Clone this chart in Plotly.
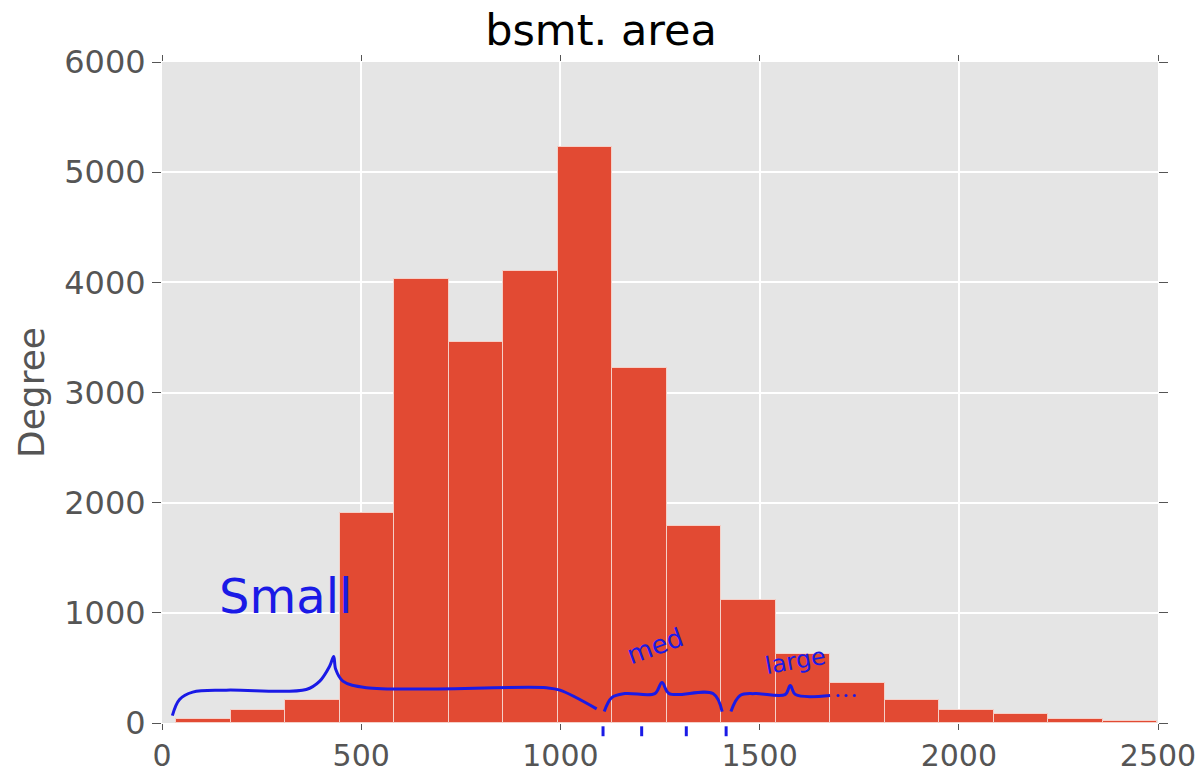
import plotly.graph_objects as go

# Histogram data (bsmt. area)
bin_start = 36
bin_width = 136.8
counts = [40, 115, 213, 1910, 4030, 3455, 4100, 5225, 3220, 1790,
          1112, 628, 365, 205, 114, 78, 33, 18]
x_ticks = [0, 500, 1000, 1500, 2000, 2500]
y_ticks = [0, 1000, 2000, 3000, 4000, 5000, 6000]

# Hand-drawn annotation strokes (data units)
small_brace_x = [26, 44, 77, 161, 362, 396, 421, 431, 436, 454, 513, 965, 999, 1091]
small_brace_y = [67, 213, 280, 298, 304, 380, 517, 603, 487, 380, 320, 320, 298, 128]
med_brace_x = [1110, 1129, 1162, 1237, 1255, 1273, 1383, 1406]
med_brace_y = [104, 231, 267, 267, 368, 267, 267, 104]
large_brace_x = [1428, 1451, 1489, 1564, 1577, 1590, 1677]
large_brace_y = [104, 250, 267, 258, 340, 258, 250]
dots_x = [1697, 1717, 1738]
dots_y = [250, 250, 250]
mark_x = [1107, 1204, 1316, 1416]
labels = ["Small", "med", "large"]
label_x = [310, 1238, 1590]
label_y = [1150, 700, 560]
label_size = [48, 26, 24]
label_angle = [0, -20, -10]

centers = [bin_start + bin_width * (i + 0.5) for i in range(len(counts))]

pen = "#1a1aE6"

fig = go.Figure()
fig.add_trace(go.Bar(x=centers, y=counts, width=bin_width,
                     marker=dict(color="#E24A33", line=dict(color="#F5D0C8", width=1)),
                     showlegend=False))
for bx, by in [(small_brace_x, small_brace_y), (med_brace_x, med_brace_y),
               (large_brace_x, large_brace_y)]:
    fig.add_trace(go.Scatter(x=bx, y=by, mode="lines", line=dict(color=pen, width=3, shape="spline"),
                             showlegend=False, hoverinfo="skip"))
fig.add_trace(go.Scatter(x=dots_x, y=dots_y, mode="markers",
                         marker=dict(color=pen, size=3), showlegend=False))

for mx in mark_x:
    fig.add_shape(type="line", xref="x", yref="paper", x0=mx, x1=mx, y0=-0.005, y1=-0.02,
                  line=dict(color=pen, width=3))

for t, lx, ly, s, a in zip(labels, label_x, label_y, label_size, label_angle):
    fig.add_annotation(x=lx, y=ly, xref="x", yref="y", text=t, showarrow=False,
                       textangle=a, font=dict(family="DejaVu Sans", size=s, color=pen))

axis_common = dict(showgrid=True, gridcolor="white", gridwidth=1.5, zeroline=False,
                   ticks="outside", tickcolor="#555555", tickwidth=1,
                   mirror="ticks", showline=False, automargin=False)

fig.update_xaxes(range=[0, 2500], tickvals=x_ticks, ticklen=6,
                 tickfont=dict(family="DejaVu Sans", size=30, color="#555555"), **axis_common)
fig.update_yaxes(range=[0, 6000], tickvals=y_ticks, ticklen=9,
                 tickfont=dict(family="DejaVu Sans", size=32, color="#555555"),
                 title=dict(text="Degree", font=dict(family="DejaVu Sans", size=36, color="#555555"),
                            standoff=8),
                 **axis_common)

fig.update_layout(
    width=1202, height=774,
    margin=dict(l=162, r=44, t=62, b=51),
    plot_bgcolor="#E5E5E5", paper_bgcolor="white",
    bargap=0,
    title=dict(text="bsmt. area", x=0.5, xanchor="center", y=1 - 30 / 774, yanchor="middle",
               font=dict(family="DejaVu Sans", size=43, color="black")),
)

fig.write_html("out.html")
